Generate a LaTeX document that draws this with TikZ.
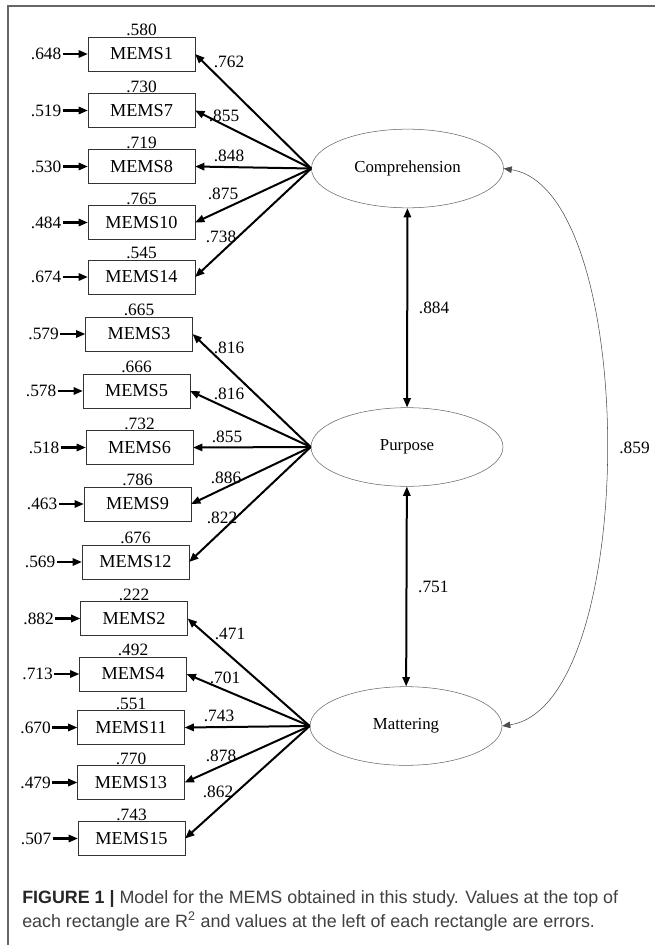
\documentclass[tikz,border=0pt]{standalone}
\usepackage{fontspec}
\setmainfont{Liberation Serif}
\newfontfamily\capfont{Liberation Sans}
\usetikzlibrary{arrows.meta,shapes.geometric,calc,positioning}

\tikzset{
  item/.style={draw=black!80, thin, rectangle, minimum width=80pt,
    minimum height=25.5pt, inner sep=0pt, font=\fontsize{13.7}{14}\selectfont},
  factor/.style={draw=black!60, thin, ellipse, minimum width=144pt,
    minimum height=59pt, inner sep=0pt, font=\fontsize{12.6}{13}\selectfont},
  val/.style={inner sep=1pt, font=\fontsize{13}{14}\selectfont},
  tip/.style={-{Triangle[length=7pt,width=5.5pt]}},
  loadarrow/.style={line width=1.5pt, tip},
  errarrow/.style={line width=1.6pt, tip},
  corrarrow/.style={line width=1.5pt,
    {Triangle[length=7pt,width=5.5pt]}-{Triangle[length=7pt,width=5.5pt]}},
  curvearrow/.style={draw=black!70, line width=0.4pt,
    {Triangle[length=6pt,width=5pt]}-{Triangle[length=6pt,width=5pt]}},
}

\begin{document}
\begin{tikzpicture}[x=0.75pt, y=-0.75pt]
    \useasboundingbox (0,0) rectangle (655,945);
    % frame
    \draw[black!60, line width=1.1pt] (655,6) -- (8,6) -- (8,945);

    % latent factors
    \node[factor] (comp) at (407.5,168.5) {Comprehension};
    \node[factor] (purp) at (407,447) {Purpose};
    \node[factor] (matt) at (406,726) {Mattering};

    % indicators: item/x/y/R2/error/loading/label x/label y/factor
    \foreach \k/\x/\y/\rsq/\err/\ld/\lx/\ly/\lat in {
        1/141.5/54/.580/.648/.762/229/62/comp,
        7/141.5/110.5/.730/.519/.855/224/116/comp,
        8/141.5/166.5/.719/.530/.848/229/156/comp,
        10/141.5/222.5/.765/.484/.875/223/194/comp,
        14/141.5/277/.545/.674/.738/221/237/comp,
        3/139/334/.665/.579/.816/229/348/purp,
        5/136.5/391/.666/.578/.816/229/394/purp,
        6/139.5/447.5/.732/.518/.855/227/437/purp,
        9/137.5/504/.786/.463/.886/226/478/purp,
        12/135.5/562/.676/.569/.822/222/518/purp,
        2/134/618.5/.222/.882/.471/230/634/matt,
        4/133/674/.492/.713/.701/225/678/matt,
        11/131/727.5/.551/.670/.743/219/716/matt,
        13/131/782.5/.770/.479/.878/221/756/matt,
        15/131.5/838.5/.743/.507/.862/218/792/matt}{
      \node[item] (m\k) at (\x,\y) {MEMS\k};
      \node[val, anchor=base] (r\k) at ($(m\k.north)+(0,-1)$) {\rsq};
      \node[val, anchor=east] (e\k) at ($(m\k.west)+(-25,0)$) {\err};
      \draw[errarrow] (e\k) -- (m\k);
      \draw[loadarrow] (\lat.west) -- (m\k.east);
      \node[val] (l\k) at (\lx,\ly) {\ld};
    }

    % correlations
    \draw[corrarrow] (comp) -- node[val, right=7pt] (c12) {.884} (purp);
    \draw[corrarrow] (purp) -- node[val, right=7pt] (c23) {.751} (matt);
    \draw[curvearrow] (comp.east) .. controls (640,190) and (640,705) ..
        node[val, right=9pt] (c13) {.859} (matt.east);

    % caption
    \node[anchor=base west, inner sep=0pt, text=black!75,
        font=\capfont\fontsize{13.4}{15}\selectfont] (cap1) at (22,903)
        {\textbf{\color{black!85}FIGURE 1 |} Model for the MEMS obtained in this study. Values at the top of};
    \node[anchor=base west, inner sep=0pt, text=black!75,
        font=\capfont\fontsize{13.4}{15}\selectfont] (cap2) at (22,927)
        {each rectangle are R\textsuperscript{2} and values at the left of each rectangle are errors.};
\end{tikzpicture}
\end{document}
